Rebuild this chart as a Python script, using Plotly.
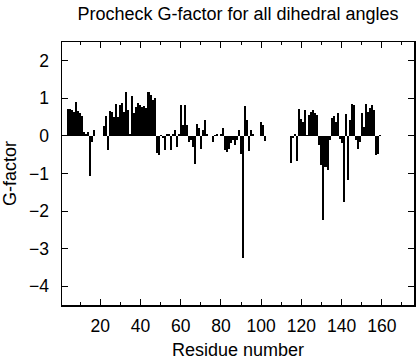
import plotly.graph_objects as go

residues = list(range(1, 160))
gfactor = [
    None, None, None, 0.73, 0.73, 0.70, 0.64, 0.89, 0.66, 0.62,   # 1-10
    0.53, 0.10, 0.06, 0.10, -1.07, -0.15, 0.15, None, None, None,  # 11-20
    None, 0.27, 0.53, -0.38, 0.66, 0.65, 0.50, 0.86, 0.50, 0.82,   # 21-30
    0.88, 0.65, 1.17, 0.68, 0.05, 1.05, 0.60, 0.77, 0.88, 0.82,    # 31-40
    0.77, 0.80, 0.75, 1.17, 1.08, 0.95, 1.00, -0.45, -0.51, 0.02,  # 41-50
    -0.05, -0.38, 0.06, 0.05, -0.38, 0.06, 0.15, -0.30, 0.05, 0.82,  # 51-60
    0.30, 0.82, 0.30, -0.16, -0.10, -0.30, -0.74, 0.33, 0.20, -0.34,  # 61-70
    0.15, 0.43, 0.05, None, None, -0.16, 0.02, 0.05, None, 0.05,   # 71-80
    0.21, -0.38, -0.43, -0.35, -0.20, -0.10, -0.25, -0.10, 0.17, -0.47,  # 81-90
    -3.26, 0.79, 0.43, -0.40, 0.17, 0.05, None, None, None, 0.37,  # 91-100
    0.30, -0.14, None, None, None, None, None, None, None, None,   # 101-110
    None, None, None, None, -0.72, -0.05, 0.06, -0.67, 0.73, 0.46,  # 111-120
    0.37, 0.70, 0.02, 0.55, 0.64, 0.68, 0.60, 0.55, -0.25, -0.78,  # 121-130
    -2.25, -0.82, -0.91, -0.10, 0.49, 0.52, 0.37, 0.60, -0.07, -0.20,  # 131-140
    -1.75, 0.58, -1.18, 0.42, 0.86, 0.82, -0.12, -0.34, -0.16, 0.60,  # 141-150
    0.24, 0.86, 0.64, 0.75, 0.83, 0.68, -0.51, -0.47, 0.03,          # 151-159
]

x_ticks = [20, 40, 60, 80, 100, 120, 140, 160]
y_ticks = [2, 1, 0, -1, -2, -3, -4]

FONT = "Liberation Sans, Arial, Helvetica, sans-serif"

fig = go.Figure(
    go.Bar(
        x=residues,
        y=gfactor,
        width=1.0,
        marker=dict(color="black", line=dict(width=0)),
    )
)

fig.update_layout(
    width=416,
    height=360,
    margin=dict(l=62, r=2, t=42, b=55, autoexpand=False),
    paper_bgcolor="white",
    plot_bgcolor="white",
    showlegend=False,
    bargap=0,
    font=dict(family=FONT, color="black"),
    title=dict(
        text="Procheck G-factor for all dihedral angles",
        x=0.5, xanchor="center", xref="paper",
        y=1 - 14 / 360, yanchor="middle", yref="container",
        font=dict(size=18, family=FONT, color="black"),
    ),
)

fig.update_xaxes(
    range=[1, 176],
    tickmode="array",
    tickvals=x_ticks,
    ticks="inside",
    ticklen=6,
    tickwidth=1,
    tickcolor="black",
    minor=dict(dtick=10, tick0=0, ticks="inside", ticklen=3, tickcolor="black"),
    showline=True,
    linecolor="black",
    linewidth=1.5,
    mirror="ticks",
    showgrid=False,
    zeroline=False,
    ticklabelstandoff=4,
    tickfont=dict(size=17.5, family=FONT, color="black"),
    title=dict(text="Residue number", font=dict(size=18, family=FONT, color="black"), standoff=10),
)

fig.update_yaxes(
    range=[-4.5, 2.5],
    tickmode="array",
    tickvals=y_ticks,
    ticks="inside",
    ticklen=6,
    tickwidth=1,
    tickcolor="black",
    showline=True,
    linecolor="black",
    linewidth=1.5,
    mirror="ticks",
    showgrid=False,
    zeroline=False,
    ticklabelstandoff=8,
    tickfont=dict(size=17.5, family=FONT, color="black"),
    title=dict(text="G-factor", font=dict(size=18, family=FONT, color="black"), standoff=13),
)

# remove the page's default body margin so the figure fills the window exactly
fig.write_html(
    "out.html",
    config={"displayModeBar": False, "staticPlot": True},
    post_script="document.body.style.margin='0';document.body.style.overflow='hidden';",
)
